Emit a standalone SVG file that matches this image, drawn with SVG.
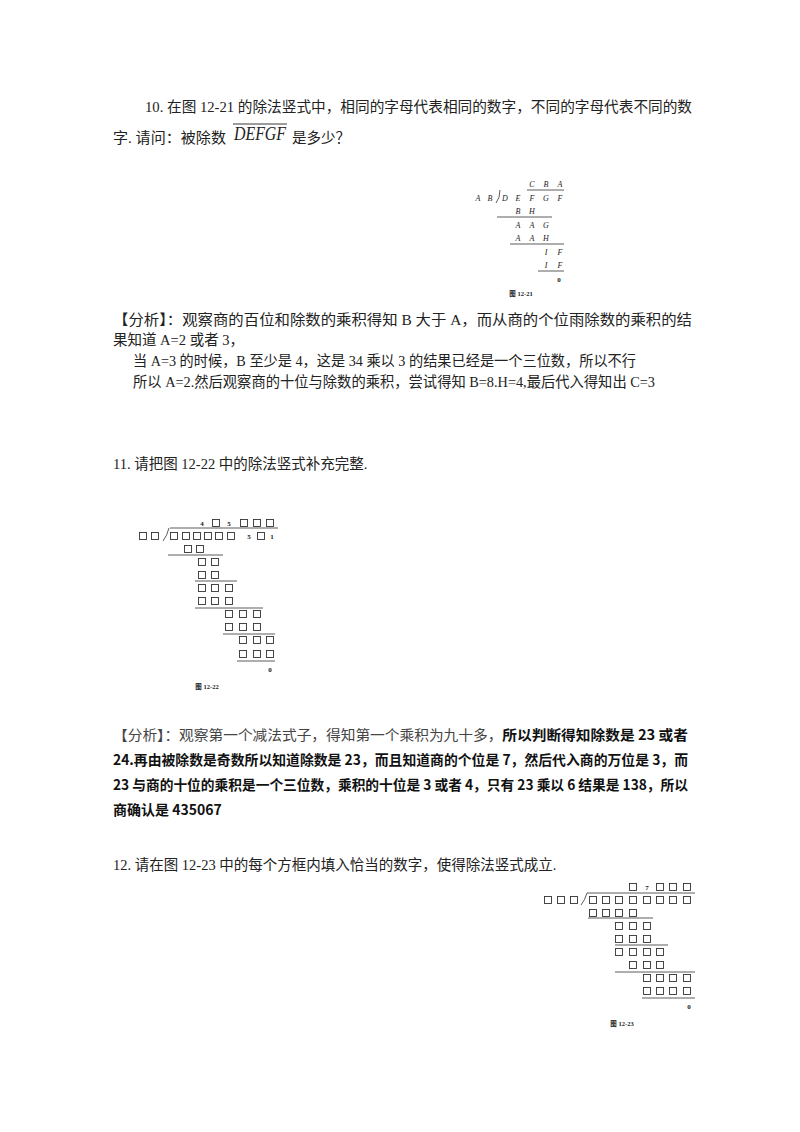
<svg xmlns="http://www.w3.org/2000/svg" xmlns:xlink="http://www.w3.org/1999/xlink" width="800" height="1132" viewBox="0 0 800 1132">
<style>
.t{font-family:"Liberation Serif","Noto Sans CJK SC",serif;font-size:14.5px;fill:#222}
.b{font-family:"Noto Sans CJK SC",sans-serif;font-size:14px;fill:#111;font-weight:bold}
.g{font-family:"Noto Sans CJK SC",sans-serif;font-size:14px;fill:#444}
.s{font-family:"Liberation Serif",serif;font-size:8px;font-style:italic;fill:#222;text-anchor:middle}
.d{font-family:"Liberation Serif",serif;font-size:7px;fill:#222;text-anchor:middle;font-weight:bold}
.c{font-family:"Liberation Serif","Noto Sans CJK SC",serif;font-size:6.5px;fill:#222;text-anchor:middle;font-weight:bold}
.l{stroke:#333;stroke-width:0.8;fill:none}
.bx{fill:none;stroke:#333;stroke-width:0.9}
</style>
<defs><rect id="q" class="bx" x="-3.5" y="-3.5" width="7" height="7"/></defs>
<rect width="800" height="1132" fill="#fff"/>

<g id="p10">
<text class="t" x="145" y="112" textLength="547" lengthAdjust="spacingAndGlyphs">10. 在图 12-21 的除法竖式中，相同的字母代表相同的数字，不同的字母代表不同的数</text>
<text class="t" x="113" y="143" textLength="113" lengthAdjust="spacingAndGlyphs">字. 请问：被除数</text>
<text x="234" y="140" textLength="52" lengthAdjust="spacingAndGlyphs" style="font-family:'Liberation Serif',serif;font-style:italic;font-size:18px;fill:#222">DEFGF</text>
<line x1="233" y1="124" x2="287" y2="124" stroke="#222" stroke-width="0.9"/>
<text class="t" x="292" y="143">是多少？</text>
</g>

<g id="fig1221">
<text class="s" x="532" y="187">C</text><text class="s" x="546" y="187">B</text><text class="s" x="560" y="187">A</text>
<path class="l" d="M527 190 H564"/>
<text class="s" x="478" y="201">A</text><text class="s" x="490" y="201">B</text>
<path class="l" d="M496 203 Q500 198 500 190"/>
<text class="s" x="505" y="201">D</text><text class="s" x="518" y="201">E</text><text class="s" x="532" y="201">F</text><text class="s" x="546" y="201">G</text><text class="s" x="560" y="201">F</text>
<text class="s" x="518" y="214">B</text><text class="s" x="532" y="214">H</text>
<path class="l" d="M497 217 H552"/>
<text class="s" x="518" y="228">A</text><text class="s" x="532" y="228">A</text><text class="s" x="546" y="228">G</text>
<text class="s" x="518" y="241">A</text><text class="s" x="532" y="241">A</text><text class="s" x="546" y="241">H</text>
<path class="l" d="M510 244 H564"/>
<text class="s" x="546" y="255">I</text><text class="s" x="560" y="255">F</text>
<text class="s" x="546" y="268">I</text><text class="s" x="560" y="268">F</text>
<path class="l" d="M538 271 H564"/>
<text class="d" x="559" y="282">0</text>
<text class="c" x="521" y="296">图 12-21</text>
</g>

<g id="a10">
<text class="t" x="113" y="325" textLength="579" lengthAdjust="spacingAndGlyphs">【分析】：观察商的百位和除数的乘积得知 B 大于 A，而从商的个位雨除数的乘积的结</text>
<text class="t" x="113" y="345">果知道 A=2 或者 3，</text>
<text class="t" x="133" y="366" textLength="503" lengthAdjust="spacingAndGlyphs">当 A=3 的时候，B 至少是 4，这是 34 乘以 3 的结果已经是一个三位数，所以不行</text>
<text class="t" x="133" y="387" textLength="522" lengthAdjust="spacingAndGlyphs">所以 A=2.然后观察商的十位与除数的乘积，尝试得知 B=8.H=4,最后代入得知出 C=3</text>
</g>

<g id="p11"><text class="t" x="113" y="469">11. 请把图 12-22 中的除法竖式补充完整.</text></g>

<g id="fig1222">
<text class="d" x="202" y="526">4</text><use href="#q" x="216" y="523"/><text class="d" x="229" y="526">5</text><use href="#q" x="244" y="523"/><use href="#q" x="257" y="523"/><use href="#q" x="270" y="523"/>
<path class="l" d="M170 528 H278"/>
<use href="#q" x="143" y="536"/><use href="#q" x="155" y="536"/>
<path class="l" d="M163 541 Q167 536 169 528"/>
<use href="#q" x="174" y="536"/><use href="#q" x="186" y="536"/><use href="#q" x="197" y="536"/><use href="#q" x="208" y="536"/><use href="#q" x="219" y="536"/><use href="#q" x="231" y="536"/>
<text class="d" x="249" y="539">5</text><use href="#q" x="261" y="536"/><text class="d" x="272" y="539">1</text>
<use href="#q" x="188" y="549"/><use href="#q" x="200" y="549"/>
<path class="l" d="M168 555 H223"/>
<use href="#q" x="202" y="562"/><use href="#q" x="215" y="562"/>
<use href="#q" x="202" y="575"/><use href="#q" x="215" y="575"/>
<path class="l" d="M195 581 H237"/>
<use href="#q" x="202" y="588"/><use href="#q" x="215" y="588"/><use href="#q" x="229" y="588"/>
<use href="#q" x="202" y="601"/><use href="#q" x="215" y="601"/><use href="#q" x="229" y="601"/>
<path class="l" d="M195 608 H263"/>
<use href="#q" x="229" y="614"/><use href="#q" x="243" y="614"/><use href="#q" x="257" y="614"/>
<use href="#q" x="229" y="627"/><use href="#q" x="243" y="627"/><use href="#q" x="257" y="627"/>
<path class="l" d="M223 634 H275"/>
<use href="#q" x="243" y="640"/><use href="#q" x="257" y="640"/><use href="#q" x="270" y="640"/>
<use href="#q" x="243" y="654"/><use href="#q" x="257" y="654"/><use href="#q" x="270" y="654"/>
<path class="l" d="M237 661 H275"/>
<text class="d" x="270" y="672">0</text>
<text class="c" x="207" y="689">图 12-22</text>
</g>

<g id="a11">
<text x="113" y="740" textLength="575" lengthAdjust="spacingAndGlyphs"><tspan class="g">【分析】：观察第一个减法式子，得知第一个乘积为九十多，</tspan><tspan class="b">所以判断得知除数是 23 或者</tspan></text>
<text class="b" x="113" y="765" textLength="575" lengthAdjust="spacingAndGlyphs">24.再由被除数是奇数所以知道除数是 23，而且知道商的个位是 7，然后代入商的万位是 3，而</text>
<text class="b" x="113" y="790" textLength="575" lengthAdjust="spacingAndGlyphs">23 与商的十位的乘积是一个三位数，乘积的十位是 3 或者 4，只有 23 乘以 6 结果是 138，所以</text>
<text class="b" x="113" y="815">商确认是 435067</text>
</g>

<g id="p12"><text class="t" x="113" y="870">12. 请在图 12-23 中的每个方框内填入恰当的数字，使得除法竖式成立.</text></g>

<g id="fig1223">
<use href="#q" x="633" y="887"/><text class="d" x="647" y="890">7</text><use href="#q" x="660" y="887"/><use href="#q" x="673" y="887"/><use href="#q" x="687" y="887"/>
<path class="l" d="M587 893 H695"/>
<use href="#q" x="548" y="900"/><use href="#q" x="561" y="900"/><use href="#q" x="574" y="900"/>
<path class="l" d="M581 905 Q585 900 587 893"/>
<use href="#q" x="593" y="900"/><use href="#q" x="606" y="900"/><use href="#q" x="619" y="900"/><use href="#q" x="633" y="900"/><use href="#q" x="647" y="900"/><use href="#q" x="660" y="900"/><use href="#q" x="673" y="900"/><use href="#q" x="687" y="900"/>
<use href="#q" x="593" y="913"/><use href="#q" x="606" y="913"/><use href="#q" x="619" y="913"/><use href="#q" x="633" y="913"/>
<path class="l" d="M588 918 H653"/>
<use href="#q" x="619" y="926"/><use href="#q" x="633" y="926"/><use href="#q" x="647" y="926"/>
<use href="#q" x="619" y="939"/><use href="#q" x="633" y="939"/><use href="#q" x="647" y="939"/>
<path class="l" d="M615 945 H668"/>
<use href="#q" x="619" y="952"/><use href="#q" x="633" y="952"/><use href="#q" x="647" y="952"/><use href="#q" x="660" y="952"/>
<use href="#q" x="633" y="965"/><use href="#q" x="647" y="965"/><use href="#q" x="660" y="965"/>
<path class="l" d="M615 972 H695"/>
<use href="#q" x="647" y="978"/><use href="#q" x="660" y="978"/><use href="#q" x="673" y="978"/><use href="#q" x="687" y="978"/>
<use href="#q" x="647" y="991"/><use href="#q" x="660" y="991"/><use href="#q" x="673" y="991"/><use href="#q" x="687" y="991"/>
<path class="l" d="M642 998 H695"/>
<text class="d" x="689" y="1009">0</text>
<text class="c" x="622" y="1026">图 12-23</text>
</g>
</svg>
